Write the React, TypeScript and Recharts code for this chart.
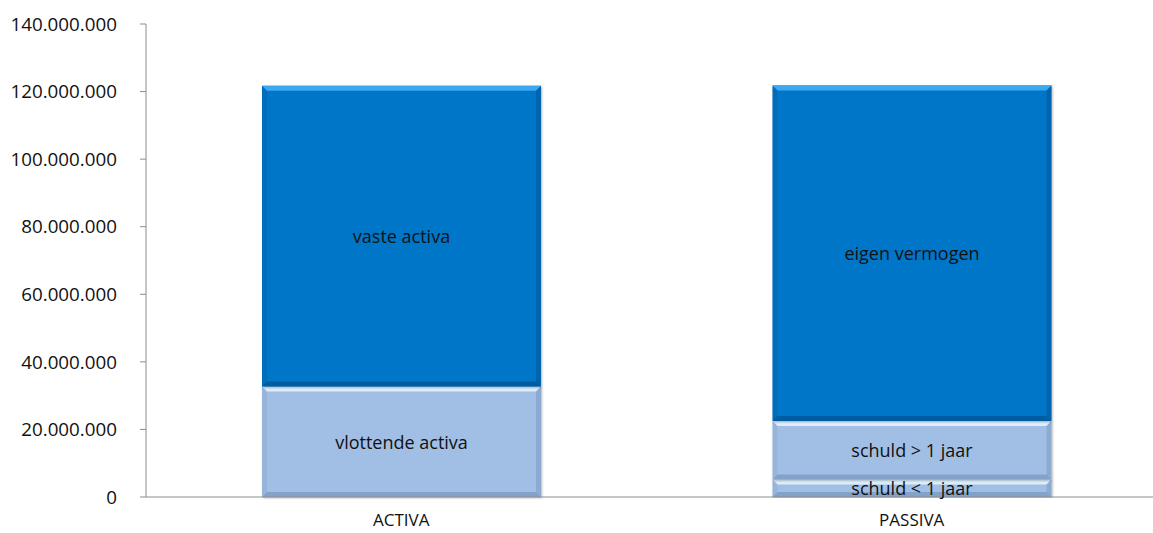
import { Bar, BarChart, LabelList, XAxis, YAxis } from "recharts";

const categories = ["ACTIVA", "PASSIVA"];
const vlottendeActiva = [32700000, null];
const schuldKort = [null, 5200000];
const schuldLang = [null, 17300000];
const vasteActiva = [89000000, null];
const eigenVermogen = [null, 99300000];
const yTicks = [0, 20000000, 40000000, 60000000, 80000000, 100000000, 120000000, 140000000];

const DARK = "#0676C9";
const LIGHT = "#A1BFE4";

const data = categories.map((c, i) => ({
  name: c,
  vlottende: vlottendeActiva[i],
  kort: schuldKort[i],
  lang: schuldLang[i],
  vaste: vasteActiva[i],
  eigen: eigenVermogen[i],
}));

const FONT = "'Open Sans', sans-serif";

function fmt(v: number) {
  return v.toLocaleString("nl-NL");
}

function bevel(fill: string, hi: string, lo: string) {
  return (props: any) => {
    const { x, y, width, height } = props;
    if (!height || height <= 0) return <g />;
    const b = Math.min(5, height / 3);
    return (
      <g filter="url(#shadow)">
        <rect x={x} y={y} width={width} height={height} fill={fill} />
        <polygon points={`${x},${y} ${x + width},${y} ${x + width - b},${y + b} ${x + b},${y + b}`} fill={hi} />
        <polygon
          points={`${x + width},${y} ${x + width},${y + height} ${x + width - b},${y + height - b} ${x + width - b},${y + b}`}
          fill={lo}
          opacity={0.3}
        />
        <polygon
          points={`${x},${y} ${x + b},${y + b} ${x + b},${y + height - b} ${x},${y + height}`}
          fill={lo}
          opacity={0.15}
        />
        <polygon
          points={`${x},${y + height} ${x + width},${y + height} ${x + width - b},${y + height - b} ${x + b},${y + height - b}`}
          fill={lo}
          opacity={0.45}
        />
      </g>
    );
  };
}

function seriesLabel(text: string) {
  return (props: any) => {
    const { x, y, width, height, value } = props;
    if (value == null || !height) return null;
    return (
      <text
        x={x + width / 2}
        y={y + height / 2}
        textAnchor="middle"
        dominantBaseline="central"
        fontFamily={FONT}
        fontSize={18}
        fill="#111"
      >
        {text}
      </text>
    );
  };
}

export default function App() {
  return (
    <div style={{ position: "absolute", left: 0, top: 0, width: 1153, height: 533, overflow: "hidden", background: "#fff" }}>
      <BarChart width={1200} height={533} data={data} margin={{ top: 24, right: 33, left: 0, bottom: 0 }}>
        <defs>
          <filter id="shadow" x="-5%" y="-5%" width="110%" height="110%">
            <feDropShadow dx="1" dy="1" stdDeviation="1.2" floodColor="#000" floodOpacity="0.3" />
          </filter>
        </defs>
        <XAxis
          dataKey="name"
          stroke="#8c8c8c"
          tickLine={false}
          tickSize={0}
          tickMargin={17}
          height={36}
          tick={{ fontFamily: FONT, fontSize: 17, fill: "#111" }}
        />
        <YAxis
          width={146}
          domain={[0, 140000000]}
          ticks={yTicks}
          interval={0}
          stroke="#8c8c8c"
          tickSize={6}
          tickMargin={23}
          tickFormatter={fmt}
          tick={{ fontFamily: FONT, fontSize: 18.8, fill: "#111" }}
        />
        <Bar dataKey="vlottende" stackId="a" barSize={279} isAnimationActive={false} shape={bevel(LIGHT, "#DCEEFC", "#5F7FAA")}>
          <LabelList dataKey="vlottende" content={seriesLabel("vlottende activa")} />
        </Bar>
        <Bar dataKey="kort" stackId="a" barSize={279} isAnimationActive={false} shape={bevel(LIGHT, "#DCEEFC", "#5F7FAA")}>
          <LabelList dataKey="kort" content={seriesLabel("schuld < 1 jaar")} />
        </Bar>
        <Bar dataKey="lang" stackId="a" barSize={279} isAnimationActive={false} shape={bevel(LIGHT, "#DCEEFC", "#5F7FAA")}>
          <LabelList dataKey="lang" content={seriesLabel("schuld > 1 jaar")} />
        </Bar>
        <Bar dataKey="vaste" stackId="a" barSize={279} isAnimationActive={false} shape={bevel(DARK, "#3DA8F2", "#023E70")}>
          <LabelList dataKey="vaste" content={seriesLabel("vaste activa")} />
        </Bar>
        <Bar dataKey="eigen" stackId="a" barSize={279} isAnimationActive={false} shape={bevel(DARK, "#3DA8F2", "#023E70")}>
          <LabelList dataKey="eigen" content={seriesLabel("eigen vermogen")} />
        </Bar>
      </BarChart>
    </div>
  );
}
